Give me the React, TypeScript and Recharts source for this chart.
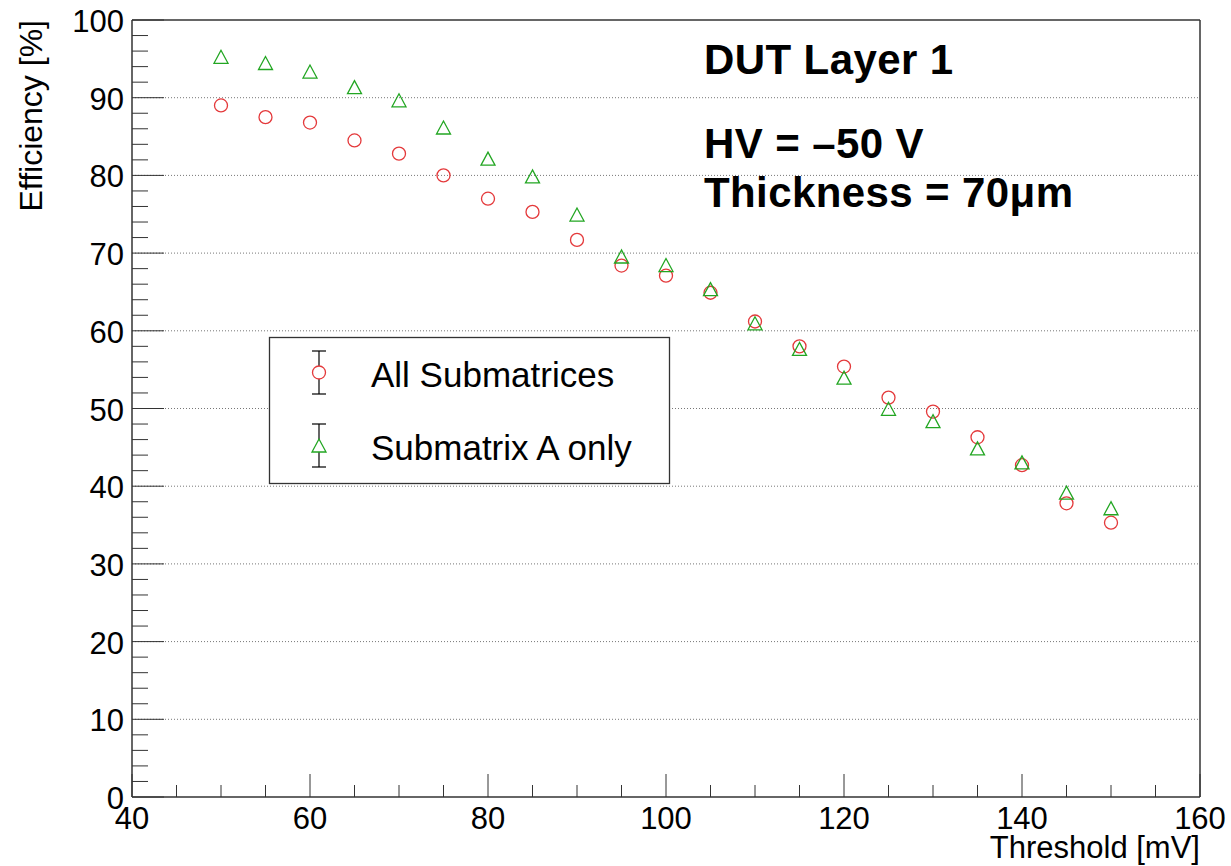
import React from 'react';
import { ScatterChart, Scatter, XAxis, YAxis, ReferenceLine } from 'recharts';

// threshold scan, DUT layer 1
const thresholds = [50, 55, 60, 65, 70, 75, 80, 85, 90, 95, 100, 105, 110, 115, 120, 125, 130, 135, 140, 145, 150];
const allSubmatrices = [89.0, 87.5, 86.8, 84.5, 82.8, 80.0, 77.0, 75.3, 71.7, 68.4, 67.1, 64.9, 61.2, 58.0, 55.4, 51.4, 49.6, 46.3, 42.7, 37.8, 35.3];
const submatrixA = [95.2, 94.4, 93.3, 91.3, 89.6, 86.1, 82.1, 79.8, 74.9, 69.5, 68.4, 65.3, 60.9, 57.6, 53.9, 49.9, 48.3, 44.8, 43.0, 39.1, 37.1];

const xMajorTicks = [40, 60, 80, 100, 120, 140, 160];
const yMajorTicks = [0, 10, 20, 30, 40, 50, 60, 70, 80, 90, 100];
const gridLines = [10, 20, 30, 40, 50, 60, 70, 80, 90];
const xMinorStep = 5;
const yMinorStep = 2;

const xTicks: number[] = [];
for (let v = 40; v <= 160; v += xMinorStep) xTicks.push(v);
const yTicks: number[] = [];
for (let v = 0; v <= 100; v += yMinorStep) yTicks.push(v);

const allData = thresholds.map((x, i) => ({ x, y: allSubmatrices[i] }));
const aData = thresholds.map((x, i) => ({ x, y: submatrixA[i] }));

const FONT = '"Liberation Sans", Arial, Helvetica, sans-serif';
const RED = '#e4393b';
const GREEN = '#22a622';
const AXIS = '#333';

const XTick = (props: any) => {
  const { x, y, payload } = props;
  const major = xMajorTicks.includes(payload.value);
  return (
    <g>
      <line x1={x} y1={y} x2={x} y2={y - (major ? 23 : 12)} stroke={AXIS} strokeWidth={1} />
      {major && (
        <text x={x} y={y + 32} textAnchor="middle" fontSize={31} fontFamily={FONT} fill="#000">
          {payload.value}
        </text>
      )}
    </g>
  );
};

const YTick = (props: any) => {
  const { x, y, payload } = props;
  const major = yMajorTicks.includes(payload.value);
  return (
    <g>
      <line x1={x} y1={y} x2={x + (major ? 32 : 16)} y2={y} stroke={AXIS} strokeWidth={1} />
      {major && (
        <text x={x - 8} y={y + 12} textAnchor="end" fontSize={31} fontFamily={FONT} fill="#000">
          {payload.value}
        </text>
      )}
    </g>
  );
};

const CircleMarker = (props: any) => (
  <circle cx={props.cx} cy={props.cy} r={6.5} fill="none" stroke={RED} strokeWidth={1.3} />
);

const TriangleMarker = (props: any) => {
  const { cx, cy } = props;
  return (
    <polygon
      points={`${cx},${cy - 7} ${cx - 7},${cy + 6} ${cx + 7},${cy + 6}`}
      fill="none"
      stroke={GREEN}
      strokeWidth={1.3}
    />
  );
};

export default function App() {
  return (
    <div style={{ position: 'absolute', left: 0, top: 0, width: 1231, height: 866, background: '#fff' }}>
      <ScatterChart width={1231} height={866} margin={{ top: 20, right: 31, bottom: 0, left: 0 }}>
        <XAxis
          type="number"
          dataKey="x"
          domain={[40, 160]}
          ticks={xTicks}
          interval={0}
          height={69}
          tickSize={0}
          tickMargin={0}
          tickLine={false}
          axisLine={{ stroke: AXIS, strokeWidth: 1.5 }}
          tick={<XTick />}
        />
        <YAxis
          type="number"
          dataKey="y"
          domain={[0, 100]}
          ticks={yTicks}
          interval={0}
          width={132}
          tickSize={0}
          tickMargin={0}
          tickLine={false}
          axisLine={{ stroke: AXIS, strokeWidth: 1.5 }}
          tick={<YTick />}
        />
        {gridLines.map((v) => (
          <ReferenceLine key={v} y={v} stroke="#777" strokeDasharray="1 2" strokeWidth={1} />
        ))}
        <ReferenceLine y={100} stroke={AXIS} strokeWidth={1.5} />
        <ReferenceLine x={160} stroke={AXIS} strokeWidth={1.5} />
        <Scatter data={allData} shape={<CircleMarker />} isAnimationActive={false} />
        <Scatter data={aData} shape={<TriangleMarker />} isAnimationActive={false} />
      </ScatterChart>

      <svg
        width={1231}
        height={866}
        style={{ position: 'absolute', left: 0, top: 0, pointerEvents: 'none' }}
        fontFamily={FONT}
      >
        <text x={704} y={74} fontSize={42} fontWeight="bold" letterSpacing={0.4}>DUT Layer 1</text>
        <text x={704} y={158} fontSize={42} fontWeight="bold" letterSpacing={0.4}>HV = –50 V</text>
        <text x={704} y={207} fontSize={42} fontWeight="bold" letterSpacing={0.4}>Thickness = 70μm</text>

        <text transform="translate(42,20) rotate(-90)" textAnchor="end" fontSize={32}>Efficiency [%]</text>
        <text x={1200} y={858} textAnchor="end" fontSize={31}>Threshold [mV]</text>

        <rect x={269.5} y={337.5} width={400} height={146} fill="#fff" stroke={AXIS} strokeWidth={1.3} />
        <g stroke="#000" strokeWidth={1.2}>
          <line x1={319} y1={351} x2={319} y2={394} />
          <line x1={312} y1={351} x2={326} y2={351} />
          <line x1={312} y1={394} x2={326} y2={394} />
          <line x1={319} y1={424} x2={319} y2={467} />
          <line x1={312} y1={424} x2={326} y2={424} />
          <line x1={312} y1={467} x2={326} y2={467} />
        </g>
        <circle cx={319} cy={372.5} r={6.5} fill="#fff" stroke={RED} strokeWidth={1.3} />
        <polygon points="319,439 312,452 326,452" fill="#fff" stroke={GREEN} strokeWidth={1.3} />
        <text x={371} y={387} fontSize={35}>All Submatrices</text>
        <text x={371} y={460} fontSize={35}>Submatrix A only</text>
      </svg>
    </div>
  );
}
